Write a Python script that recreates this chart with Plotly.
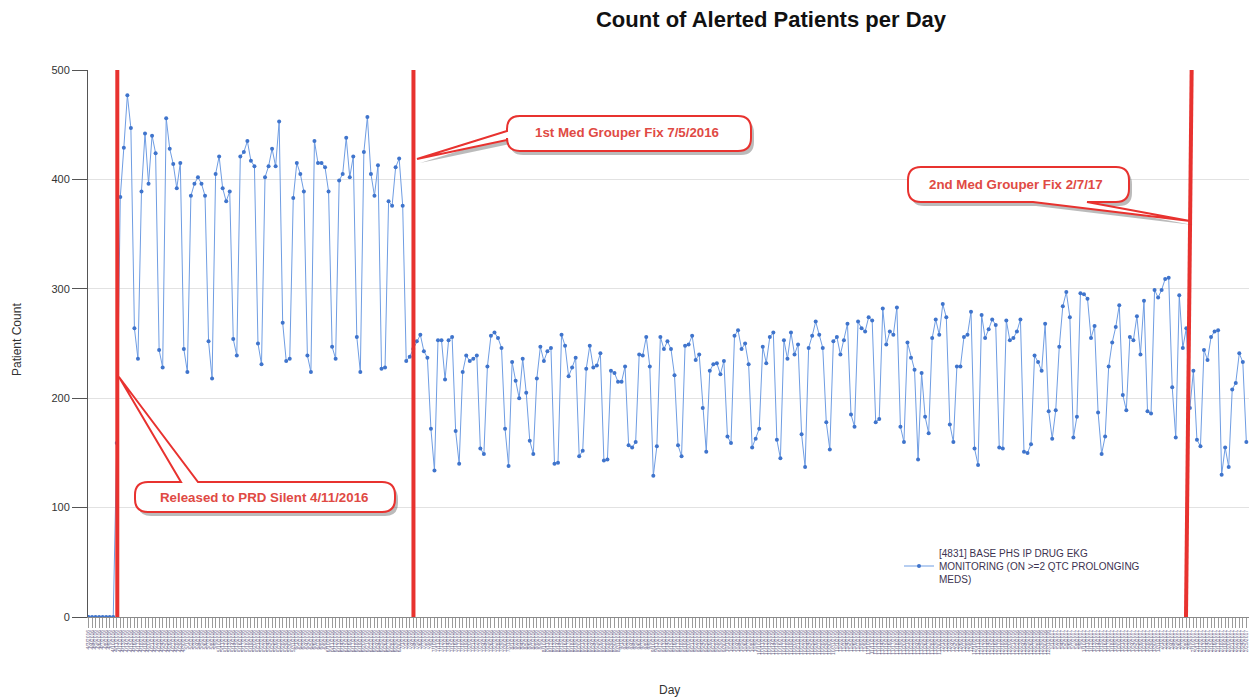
import plotly.graph_objects as go
import pandas as pd

# ---------------- data ----------------
start_date = "2016-04-03"
series_name = "[4831] BASE PHS IP DRUG EKG<br>MONITORING (ON >=2 QTC PROLONGING<br>MEDS)"

# daily alerted-patient counts, 4/3/2016 .. 2/25/2017
patient_counts = [
    0, 0, 0, 0, 0, 0, 0, 0, 159,
    384, 429, 477, 447, 264, 236,
    389, 442, 396, 440, 424, 244, 228,
    456, 428, 414, 392, 415, 245, 224,
    385, 396, 402, 396, 385, 252, 218,
    405, 421, 392, 380, 389, 254, 239,
    421, 425, 435, 417, 412, 250, 231,
    402, 412, 428, 412, 453, 269, 234,
    236, 383, 415, 405, 389, 239, 224,
    435, 415, 415, 411, 389, 247, 236,
    399, 405, 438, 402, 421, 256, 224,
    425, 457, 405, 385, 413, 227, 228,
    380, 376, 411, 419, 376, 234, 238,
    245, 252, 258, 243, 237, 172, 134,
    253, 253, 217, 253, 256, 170, 140,
    224, 239, 234, 236, 239, 154, 149,
    229, 257, 260, 255, 246, 172, 138,
    233, 216, 200, 236, 205, 161, 149,
    218, 247, 234, 243, 246, 140, 141,
    258, 248, 220, 228, 237, 147, 152,
    227, 248, 228, 230, 241, 143, 144,
    225, 223, 215, 215, 229, 157, 155,
    160, 240, 239, 256, 229, 129, 156,
    256, 245, 252, 245, 221, 157, 147,
    248, 249, 257, 235, 240, 191, 151,
    225, 231, 232, 222, 234, 165, 159,
    257, 262, 245, 250, 231, 155, 163,
    172, 247, 232, 256, 260, 162, 145,
    253, 236, 260, 240, 249, 167, 137,
    246, 257, 270, 258, 246, 178, 153,
    252, 256, 240, 253, 268, 185, 174,
    270, 264, 261, 274, 271, 178, 181,
    282, 249, 261, 258, 283, 174, 160,
    251, 237, 226, 144, 223, 183, 168,
    255, 272, 258, 286, 274, 176, 160,
    229, 229, 256, 258, 279, 154, 139,
    276, 255, 263, 272, 267, 155, 154,
    271, 253, 255, 261, 272, 151, 150,
    158, 239, 233, 225, 268, 188, 163,
    189, 247, 284, 297, 274, 164, 183,
    296, 295, 291, 255, 266, 187, 149,
    165, 229, 251, 265, 285, 203, 189,
    256, 253, 275, 240, 289, 188, 186,
    299, 292, 299, 309, 310, 210, 164,
    294, 246, 264, 191, 225, 162, 156,
    244, 235, 256, 261, 262, 130, 155,
    137, 208, 214, 241, 233, 160,
]
day_labels = [d.strftime("%-m/%-d/%Y") for d in
              pd.date_range(start_date, periods=len(patient_counts), freq="D")]

y_ticks = [0, 100, 200, 300, 400, 500]

# event markers (category index on the day axis) and callout texts
event_top_x = [8.15, 92.05, 312.5]
event_bot_x = [8.15, 92.05, 310.9]
callout_texts = ["Released to PRD Silent 4/11/2016",
                 "1st Med Grouper Fix 7/5/2016",
                 "2nd Med Grouper Fix 2/7/17"]

# ---------------- layout helpers ----------------
W, H = 1249, 700
L, R, T, B = 88, 1249, 70, 617


def px(x):
    return (x - L) / (R - L)


def py(y):
    return (B - y) / (B - T)


def P(x, y):
    return f"{px(x):.5f},{py(y):.5f}"


def callout_path(x0, y0, x1, y1, r, edge, a, b, tip, dx=0, dy=0):
    x0 += dx; x1 += dx; y0 += dy; y1 += dy
    if edge in ("top", "bottom"):
        a += dx; b += dx
    else:
        a += dy; b += dy
    tip = (tip[0] + dx, tip[1] + dy)
    s = f"M {P(x0 + r, y0)}"
    if edge == "top":
        s += f" L {P(a, y0)} L {P(*tip)} L {P(b, y0)}"
    s += f" L {P(x1 - r, y0)} Q {P(x1, y0)} {P(x1, y0 + r)}"
    s += f" L {P(x1, y1 - r)} Q {P(x1, y1)} {P(x1 - r, y1)}"
    if edge == "bottom":
        s += f" L {P(b, y1)} L {P(*tip)} L {P(a, y1)}"
    s += f" L {P(x0 + r, y1)} Q {P(x0, y1)} {P(x0, y1 - r)}"
    if edge == "left":
        s += f" L {P(x0, b)} L {P(*tip)} L {P(x0, a)}"
    s += f" L {P(x0, y0 + r)} Q {P(x0, y0)} {P(x0 + r, y0)} Z"
    return s


RED = "#e8322f"
TEXT_RED = "#e04a44"

fig = go.Figure()
fig.add_trace(go.Scatter(
    x=day_labels, y=patient_counts, mode="lines+markers",
    name=series_name,
    line=dict(color="#6f9de3", width=1),
    marker=dict(color="#3f74cc", size=4),
    showlegend=True,
))

shapes = []
# red vertical event lines
for xt, xb in zip(event_top_x, event_bot_x):
    shapes.append(dict(type="line", xref="x", yref="paper", x0=xb, x1=xt,
                       y0=0.0, y1=1.0, line=dict(color=RED, width=4)))

callouts = [
    dict(box=(135, 482, 395, 512), edge="top", a=181, b=198, tip=(119, 377), c=(264, 497)),
    dict(box=(507, 116, 751, 151), edge="left", a=131, b=140, tip=(417, 159), c=(627, 132)),
    dict(box=(908, 167, 1129, 202), edge="bottom", a=1033, b=1087, tip=(1190, 221), c=(1016, 184)),
]
for cfg in callouts:
    x0, y0, x1, y1 = cfg["box"]
    shapes.append(dict(type="path", xref="paper", yref="paper",
                       path=callout_path(x0, y0, x1, y1, 13, cfg["edge"], cfg["a"], cfg["b"], cfg["tip"], 3, 4),
                       fillcolor="rgba(60,60,60,0.35)", line=dict(width=0)))
for cfg in callouts:
    x0, y0, x1, y1 = cfg["box"]
    shapes.append(dict(type="path", xref="paper", yref="paper",
                       path=callout_path(x0, y0, x1, y1, 13, cfg["edge"], cfg["a"], cfg["b"], cfg["tip"]),
                       fillcolor="white", line=dict(color=RED, width=2)))

annotations = []
for cfg, txt in zip(callouts, callout_texts):
    cx, cy = cfg["c"]
    annotations.append(dict(x=px(cx), y=py(cy), xref="paper", yref="paper",
                            xanchor="center", yanchor="middle",
                            text=f"<b>{txt}</b>", showarrow=False,
                            font=dict(family="Liberation Sans, Arial", size=13.3, color=TEXT_RED)))
annotations.append(dict(x=px(17), y=py(340), xref="paper", yref="paper", text="Patient Count",
                        xanchor="center", yanchor="middle",
                        textangle=-90, showarrow=False,
                        font=dict(family="Liberation Sans, Arial", size=12, color="#333")))
annotations.append(dict(x=px(669), y=py(690), xref="paper", yref="paper", text="Day",
                        xanchor="center", yanchor="middle",
                        showarrow=False,
                        font=dict(family="Liberation Sans, Arial", size=12, color="#333")))

fig.update_layout(
    template="none",
    width=W, height=H,
    margin=dict(l=L, r=W - R, t=T, b=H - B, pad=0, autoexpand=False),
    paper_bgcolor="white", plot_bgcolor="white",
    title=dict(text="<b>Count of Alerted Patients per Day</b>", xref="container",
               x=771 / W, xanchor="center",
               y=1 - 19 / H, yanchor="middle",
               font=dict(family="Liberation Sans, Arial", size=22, color="#111")),
    font=dict(family="Liberation Sans, Arial"),
    xaxis=dict(type="category", range=[-0.15, len(patient_counts) - 0.25],
               showline=True, linecolor="#8a8a8a", linewidth=1,
               ticks="outside", ticklen=10, tickcolor="#9a9a9a", tickwidth=1,
               tickmode="array", tickvals=day_labels, ticktext=day_labels,
               tickangle=-90, tickfont=dict(size=5, color="#6e6a8c"),
               showgrid=False, zeroline=False, automargin=False),
    yaxis=dict(range=[0, 500], tickvals=y_ticks, showline=True, linecolor="#555", linewidth=1,
               ticks="outside", ticklen=15, tickcolor="#555",
               tickfont=dict(size=11, color="#333"),
               showgrid=True, gridcolor="#e2e2e2", gridwidth=1, zeroline=False, automargin=False),
    legend=dict(x=px(899), y=py(540), xanchor="left", yanchor="top",
                bgcolor="rgba(0,0,0,0)", font=dict(size=10, color="#3c3350"),
                itemwidth=30),
    shapes=shapes,
    annotations=annotations,
    hovermode="closest",
)

fig.write_html("out.html", config={"displayModeBar": False},
               post_script="document.body.style.margin='0px';")
